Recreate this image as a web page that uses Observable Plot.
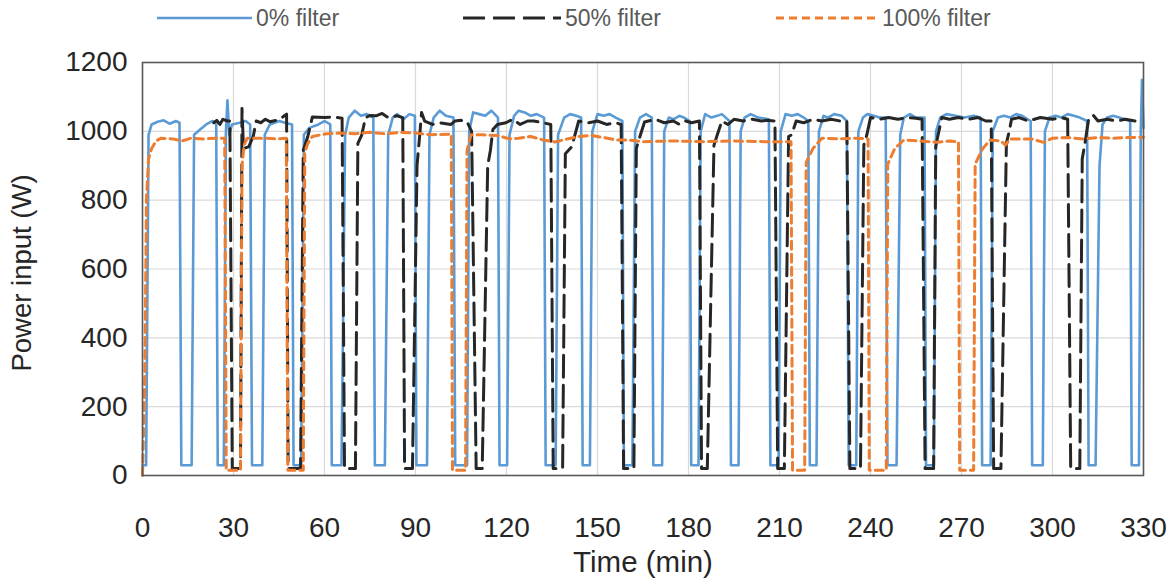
<!DOCTYPE html>
<html>
<head>
<meta charset="utf-8">
<script src="https://cdn.jsdelivr.net/npm/d3@7"></script>
<script src="https://cdn.jsdelivr.net/npm/@observablehq/plot@0.6"></script>
<style>
  html, body { margin: 0; padding: 0; background: #fff; }
  #wrap { width: 1170px; height: 588px; font-family: "Liberation Sans", Arial, sans-serif; }
  #legend { display: block; }
</style>
</head>
<body>
<div id="wrap"></div>
<script>
// ---- data (time in min, power in W) ----
const xTicks = [0, 30, 60, 90, 120, 150, 180, 210, 240, 270, 300, 330];
const yTicks = [0, 200, 400, 600, 800, 1000, 1200];
const seriesNames = ["0% filter", "50% filter", "100% filter"];
const seriesColors = ["#5B9BD5", "#262626", "#ED7D31"];

const filter0 = [[0,30],[1.2,30],[2,990],[3,1020],[5,1028],[7,1032],[9,1022],[11,1030],[12.2,1025],[12.8,30],[16.2,30],[17,990],[19,1005],[21,1020],[23,1030],[24.3,1025],[24.8,30],[26.8,30],[27.5,1000],[28,1090],[28.6,990],[29.5,1020],[32,1025],[34,1030],[35.5,1020],[36.1,30],[39.5,30],[40.3,990],[42,1020],[45,1030],[47,1025],[49.3,1020],[49.8,30],[52.3,30],[53.2,990],[55,1010],[58,1020],[60,1030],[61.9,1020],[62.4,30],[65.6,30],[66.8,990],[68,1040],[70,1060],[72,1045],[74,1050],[76.1,1040],[76.6,30],[79.9,30],[81,990],[82.5,1040],[84,1050],[86,1035],[88,1050],[89.8,1045],[90.3,30],[93.8,30],[94.6,990],[96,1040],[98,1060],[100,1045],[102.5,1040],[103.1,30],[107,30],[107.7,1000],[109,1055],[111,1050],[113,1045],[115,1060],[117.2,1040],[117.7,30],[120.2,30],[121,990],[122.5,1045],[124,1060],[126,1055],[128,1045],[130,1050],[132.4,1040],[132.9,30],[136.2,30],[137,990],[139,1040],[141,1050],[143,1045],[144.6,1040],[145.1,30],[147.5,30],[148.3,1000],[150,1050],[152,1045],[154,1050],[156,1040],[158.2,1030],[158.7,30],[161.5,30],[162.4,1000],[164,1040],[166,1050],[167.9,1040],[168.4,30],[171.3,30],[172,1000],[173.5,1040],[175,1035],[177,1045],[178.5,1040],[180.4,1030],[180.9,30],[183.3,30],[184,1000],[185.5,1050],[187.5,1040],[189.5,1045],[191,1050],[193.5,1030],[194,30],[196.5,30],[197.2,1000],[198.5,1040],[200.5,1050],[203,1040],[206.5,1035],[207,30],[209.7,30],[210.4,1000],[212,1050],[214,1045],[216,1050],[218,1040],[219.5,1030],[220,30],[222.2,30],[223,1000],[224.5,1045],[226,1040],[228,1050],[230.5,1045],[232.2,1030],[232.8,30],[235.3,30],[236,1000],[237.5,1040],[239,1050],[241,1045],[243,1040],[245,1040],[245.6,30],[248.6,30],[249.8,990],[251,1040],[253,1050],[255,1040],[257.8,1040],[258.3,30],[260.9,30],[261.6,1000],[263,1040],[265,1050],[268,1045],[271,1040],[274,1045],[276.3,1040],[276.8,30],[279.6,30],[280.3,1000],[282,1040],[284,1045],[286,1040],[288,1050],[290,1045],[292.8,1030],[293.3,30],[296.8,30],[297.5,1000],[299,1040],[301,1045],[303,1040],[305,1050],[307,1045],[309,1040],[311.4,1030],[311.9,30],[314.2,30],[315.5,900],[316.5,1020],[318,1040],[320,1045],[322,1040],[325.6,1030],[326.1,30],[328.5,30],[329.1,1000],[329.5,1150],[330,1010]];

const filter50 = [[23.5,1025],[24.5,1032],[25.5,1020],[26.5,1035],[28,1030],[28.8,1030],[29.6,20],[32.3,20],[32.8,1066],[33.3,950],[35,955],[36.5,985],[37.5,1030],[39,1025],[40.5,1035],[42,1028],[44,1032],[46,1040],[47.5,1050],[48,20],[52.1,20],[53,945],[54.5,985],[56,1042],[60,1040],[63,1042],[65.8,1038],[66.6,20],[70.2,20],[71,965],[72.3,990],[73.5,1040],[75,1046],[77,1045],[79,1052],[81,1040],[84,1045],[85.8,1040],[86.4,20],[89,20],[90.5,900],[91.5,1000],[92,1055],[93,1030],[95.6,1020],[98,1025],[101.7,1020],[103,1030],[105,1032],[107,1028],[108.5,1000],[110,20],[112,20],[113.8,900],[114.7,945],[115.5,1005],[117,1020],[119.8,1025],[122,1035],[124.5,1020],[127,1030],[129,1030],[132,1025],[134.6,1020],[135.4,20],[138.5,20],[139.4,935],[141.5,955],[143.8,1030],[147,1025],[150,1030],[153,1020],[156,1025],[157.8,1020],[158.6,20],[162,20],[162.8,950],[163.8,980],[165.5,1027],[169,1035],[172,1025],[175,1030],[177,1020],[179,1030],[181,1025],[183.6,1030],[184.3,20],[186.2,20],[188.4,960],[189.5,990],[191,1030],[193,1020],[195,1035],[198,1030],[201,1035],[204,1030],[206,1032],[208.5,1030],[209.4,20],[211.6,20],[213,985],[214,990],[215.5,1030],[218,1025],[221,1035],[224,1030],[227,1035],[230,1030],[232.2,1030],[233.2,20],[236.7,20],[237.8,960],[238.8,990],[240,1040],[243,1035],[246,1040],[249,1035],[252,1040],[255,1038],[257,1035],[258,20],[260.8,20],[261.5,955],[262.3,990],[263.5,1040],[266,1035],[269,1040],[272,1035],[275.5,1040],[278,1030],[279.8,1030],[280.6,20],[283,20],[284.8,965],[285.6,995],[286.5,1035],[289,1040],[292,1030],[296,1040],[300,1035],[303,1040],[305,1035],[306,20],[309,20],[309.8,920],[310.6,960],[312,1040],[313.5,1046],[315,1030],[318,1035],[321,1030],[324,1035],[327.2,1030]];

const filter100 = [[0,0],[0.8,300],[1.3,800],[2,920],[3,950],[4.5,972],[6,980],[10,978],[13,972],[16,980],[20,978],[24,980],[27.1,980],[27.6,15],[32.3,15],[32.8,900],[33.5,960],[34.5,980],[40,980],[44,978],[47.4,980],[47.9,15],[53,15],[53.5,940],[54.5,965],[56,985],[60,992],[65,995],[70,993],[75,997],[80,993],[85,997],[90,995],[95,990],[101.8,992],[102.2,15],[106.5,15],[107,945],[108.3,990],[112,990],[117,988],[121,978],[124,980],[128,985],[132,975],[136,969],[140,978],[144,985],[148,988],[152,982],[156,975],[160,975],[165,970],[175,972],[185,970],[195,972],[205,970],[213.8,970],[214.3,15],[218.3,15],[218.8,910],[221,950],[224,980],[230,978],[235,980],[239.2,978],[239.6,15],[245.2,15],[245.7,905],[248,950],[251,975],[256,972],[262,968],[266,972],[269,970],[269.4,15],[274,15],[274.5,905],[277,950],[279.5,975],[283,972],[284.5,960],[286,978],[293,978],[297,968],[300,980],[305,982],[310,978],[315,982],[320,980],[325,982],[330,983]];

// ---- styles ----
const lineStyles = [
  {strokeWidth: 2.6, dash: null},
  {strokeWidth: 3, dash: "22,8"},
  {strokeWidth: 3, dash: "8,5"}
];

const toRows = (arr, s) => arr.map(([t, p]) => ({t, p, s}));
const rows0 = toRows(filter0, seriesNames[0]);
const rows50 = toRows(filter50, seriesNames[1]);
const rows100 = toRows(filter100, seriesNames[2]);

const wrap = document.getElementById("wrap");

// ---- legend ----
const legend = d3.create("svg").attr("id", "legend").attr("width", 1170).attr("height", 40);
const legendItems = [
  {x1: 157, x2: 252, tx: 256},
  {x1: 463, x2: 561, tx: 565},
  {x1: 776, x2: 876, tx: 882}
];
legendItems.forEach((it, i) => {
  const ln = legend.append("line")
    .attr("x1", it.x1).attr("x2", it.x2).attr("y1", 18).attr("y2", 18)
    .attr("stroke", seriesColors[i]).attr("stroke-width", lineStyles[i].strokeWidth);
  if (lineStyles[i].dash) ln.attr("stroke-dasharray", lineStyles[i].dash);
  legend.append("text").attr("x", it.tx).attr("y", 18).attr("dy", "0.35em")
    .attr("font-family", "Liberation Sans, Arial, sans-serif")
    .attr("font-size", 23).attr("fill", "#595959").text(seriesNames[i]);
});
wrap.appendChild(legend.node());

// ---- chart ----
const chart = Plot.plot({
  width: 1170,
  height: 548,
  marginLeft: 142,
  marginRight: 27,
  marginTop: 22,
  marginBottom: 113,
  style: {fontFamily: "Liberation Sans, Arial, sans-serif", fontSize: "28px", color: "#262626", background: "#fff"},
  x: {domain: [0, 330]},
  y: {domain: [0, 1200]},
  marks: [
    Plot.gridX(xTicks, {stroke: "#d9d9d9", strokeOpacity: 1, strokeWidth: 1.2}),
    Plot.gridY(yTicks, {stroke: "#d9d9d9", strokeOpacity: 1, strokeWidth: 1.2}),
    Plot.line(rows0, {x: "t", y: "p", stroke: seriesColors[0], strokeWidth: lineStyles[0].strokeWidth, strokeLinejoin: "round"}),
    Plot.line(rows50, {x: "t", y: "p", stroke: seriesColors[1], strokeWidth: lineStyles[1].strokeWidth, strokeDasharray: lineStyles[1].dash}),
    Plot.line(rows100, {x: "t", y: "p", stroke: seriesColors[2], strokeWidth: lineStyles[2].strokeWidth, strokeDasharray: lineStyles[2].dash}),
    Plot.frame({stroke: "#595959", strokeWidth: 1.6}),
    Plot.axisX(xTicks, {tickSize: 0, tickPadding: 42, label: null, fontSize: 28, tickFormat: d => String(d)}),
    Plot.axisY(yTicks, {tickSize: 0, tickPadding: 15, label: null, fontSize: 28, tickFormat: d => String(d)}),
    Plot.text(["Time (min)"], {frameAnchor: "bottom", dy: 96, fontSize: 29.5, fill: "#262626", textAnchor: "middle"}),
    Plot.text(["Power input (W)"], {frameAnchor: "left", dx: -120, dy: 4, rotate: -90, fontSize: 27.5, fill: "#262626", textAnchor: "middle"})
  ]
});
wrap.appendChild(chart);
</script>
</body>
</html>
